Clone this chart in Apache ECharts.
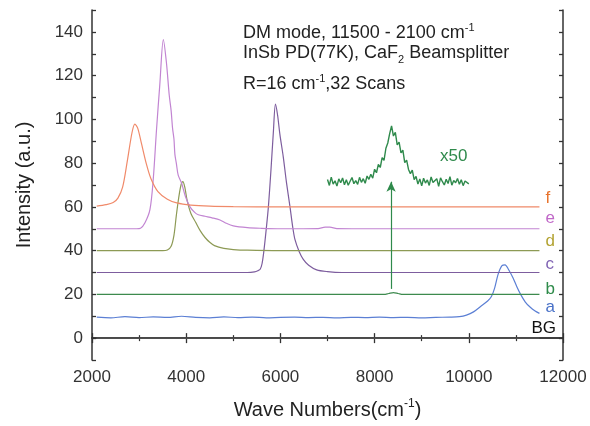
<!DOCTYPE html>
<html lang="en">
<head>
<meta charset="UTF-8">
<title>Spectra</title>
<script src="https://cdn.jsdelivr.net/npm/echarts@6/dist/echarts.min.js"></script>
<style>
    html,body{margin:0;height:100%;background:#fff;}
    #main{width:590px;height:426px;}
</style>
</head>
<body>
<div id="main"></div>
<script>
// wave numbers (cm-1) and intensities for each trace
var bgX = [2100, 11500];
var bgY = [0, 0];

var aX = [2100,2400,2700,3000,3300,3600,3900,4200,4500,4800,5100,5400,5700,6000,6300,6600,6900,7200,7500,7800,8100,8400,8700,9000,9300,9600,9800,9950,10100,10250,10400,10480,10550,10620,10700,10770,10840,10940,11020,11100,11200,11300,11400,11500];
var aY = [9.6,9.3,9.8,9.4,9.7,9.5,10.0,9.5,9.3,9.7,9.4,9.6,9.3,9.5,9.6,9.4,9.5,9.3,9.5,9.4,9.6,9.4,9.5,9.3,9.5,9.6,9.8,10.5,12,14.5,17,19,23,29,33,33.5,31.5,27.5,23.5,20,16.5,14.2,12.5,11.3];

var bX = [2100, 8200, 8300, 8400, 8500, 8600, 11500];
var bY = [20, 20, 20.4, 20.8, 20.4, 20, 20];

var cX = [2100,5300,5450,5520,5570,5610,5650,5700,5745,5800,5850,5895,5940,5990,6060,6130,6204,6260,6310,6400,6486,6600,6770,7000,7300,11500];
var cY = [30,30,30.3,30.8,31.5,34,40,50,60,77,94,107,102,93,83,71,60,51,45,39.5,36,33.3,31.2,30.4,30,30];

var dX = [2100,3500,3600,3680,3740,3790,3840,3890,3930,3970,4020,4100,4200,4300,4400,4500,4600,4800,5000,5300,6000,11500];
var dY = [40,40,40.3,42,47,56,64,70,71.5,69,63,57,53,49,46,43.8,42.3,41,40.5,40.2,40,40];

var eX = [2100,2950,3030,3125,3230,3300,3370,3440,3515,3580,3640,3680,3710,3740,3760,3790,3830,3900,3980,4080,4180,4257,4400,4550,4718,4850,5000,5300,5600,6000,6800,6950,7050,7200,8000,11500];
var eY = [50,50,50.2,52.7,58.7,72.5,95.4,116,136.5,126,111,104,96,91,84,80,74.5,71,65,60,57.5,56.4,55.7,55,54,52.5,51.3,50.5,50.2,50,50.1,50.7,50.7,50.1,50,50];

var fX = [2100,2300,2450,2550,2650,2750,2850,2910,2970,3050,3150,3250,3400,3600,3800,4100,4500,5000,6000,8000,10000,11500];
var fY = [60.3,61,62,64,69,81,94,97.8,96,89,80,73,67,63.5,61.8,60.8,60.3,60.1,60,60,60,60];

// x50 magnified inset of trace b, 40 cm-1 steps from 7000
var insetStart = 7000, insetStep = 40;
var insetY = [72.5,69.8,73.6,70.4,71.9,69.5,72.8,71.0,73.2,70.1,72.4,69.9,71.7,73.4,70.6,72.0,70.3,73.5,71.2,72.9,70.8,74.1,72.6,
    74.9,73.1,77.2,75.6,79.4,78.0,82.5,81.3,86.8,89.2,93.5,97.0,
    92.4,94.1,88.3,89.6,84.7,85.9,80.2,81.4,77.1,75.2,76.8,72.5,73.9,
    70.4,72.8,69.6,73.1,70.9,72.3,69.8,73.7,71.1,70.2,72.9,69.4,73.3,71.5,70.0,72.6,70.7,73.8,69.9,72.1,71.0,73.0,70.3,72.4,69.7,71.8,72.7,70.5];

var arrowX = 8350;
var arrowY = [22.5, 71.5];

var xTicks = [2000, 12000, 2000];   // min, max, step
var yTicks = [-10, 150, 10];

var FONT = '"Liberation Sans", Arial, sans-serif';

function pairs(xs, ys) {
    var out = [];
    for (var i = 0; i < xs.length; i++) out.push([xs[i], ys[i]]);
    return out;
}

var insetData = [];
for (var i = 0; i < insetY.length; i++) {
    insetData.push([insetStart + i * insetStep, insetY[i]]);
}

function trace(name, xs, ys, color, labelColor, off) {
    return {
        name: name,
        type: 'line',
        data: pairs(xs, ys),
        showSymbol: false,
        smooth: 0.3,
        lineStyle: {color: color, width: 1.2},
        endLabel: {
            show: true,
            formatter: name,
            color: labelColor,
            fontSize: 17,
            fontFamily: FONT,
            distance: 0,
            offset: off
        }
    };
}

var myChart = echarts.init(document.getElementById('main'));

var axisLine = {show: true, lineStyle: {color: '#333', width: 1.5}};
var tick = {show: true, inside: true, length: 5, lineStyle: {color: '#333', width: 1.3}};
var minor = {show: true, splitNumber: 2, length: 3, lineStyle: {color: '#333', width: 1.2}};
var supRich = {
    sup: {fontSize: 11, fontFamily: FONT, color: '#222', padding: [0, 0, 11, 0]},
    sub: {fontSize: 11, fontFamily: FONT, color: '#222', padding: [12, 0, 0, 0]}
};

var series = [
    trace('BG', bgX, bgY, '#555555', '#111111', [-8, -10]),
    trace('a', aX, aY, '#5b7fd4', '#4a72c8', [6, -6]),
    trace('b', bX, bY, '#3d8a4e', '#2e8b4a', [6, -5]),
    trace('c', cX, cY, '#7d5d9e', '#8064b4', [6, -8]),
    trace('d', dX, dY, '#8d9a55', '#b3a333', [6, -9]),
    trace('e', eX, eY, '#c285d2', '#c068c8', [6, -10]),
    trace('f', fX, fY, '#f08a6a', '#e8742e', [6, -9]),
    {
        name: 'x50',
        type: 'line',
        data: insetData,
        showSymbol: false,
        lineStyle: {color: '#2f8a4c', width: 1.4}
    }
];
series[2].markLine = {
    silent: true,
    symbol: ['none', 'arrow'],
    symbolSize: [7, 10],
    label: {show: false},
    lineStyle: {color: '#2f8a4c', type: 'solid', width: 1.2},
    data: [[{coord: [arrowX, arrowY[0]]}, {coord: [arrowX, arrowY[1]]}]]
};

var option = {
    animation: false,
    backgroundColor: '#fff',
    grid: {left: 92, right: 27, top: 10, bottom: 66},
    title: [
        {text: 'DM mode, 11500 - 2100 cm{sup|-1}', left: 243, top: 22, padding: 0,
            textStyle: {fontSize: 18, fontWeight: 'normal', color: '#222', fontFamily: FONT, rich: supRich}},
        {text: 'InSb PD(77K), CaF{sub|2} Beamsplitter', left: 243, top: 42, padding: 0,
            textStyle: {fontSize: 18, fontWeight: 'normal', color: '#222', fontFamily: FONT, rich: supRich}},
        {text: 'R=16 cm{sup|-1},32 Scans', left: 243, top: 73, padding: 0,
            textStyle: {fontSize: 18, fontWeight: 'normal', color: '#222', fontFamily: FONT, rich: supRich}},
        {text: 'x50', left: 440, top: 148, padding: 0,
            textStyle: {fontSize: 17, fontWeight: 'normal', color: '#2f8a4c', fontFamily: FONT}}
    ],
    xAxis: [{
        type: 'value',
        min: xTicks[0], max: xTicks[1], interval: xTicks[2],
        name: 'Wave Numbers(cm{sup|-1})',
        nameLocation: 'middle',
        nameGap: 38,
        nameTextStyle: {fontSize: 20, color: '#222', fontFamily: FONT,
            rich: {sup: {fontSize: 12, fontFamily: FONT, color: '#222', padding: [0, 0, 12, 0]}}},
        axisLine: axisLine,
        axisTick: tick,
        minorTick: minor,
        splitLine: {show: false},
        axisLabel: {
            fontSize: 17, color: '#333', fontFamily: FONT, margin: 9,
            formatter: function (v) { return String(v); }
        }
    }, {
        type: 'value',
        position: 'top',
        min: xTicks[0], max: xTicks[1], interval: xTicks[2],
        axisLine: axisLine,
        axisTick: tick,
        minorTick: minor,
        splitLine: {show: false},
        axisLabel: {show: false}
    }],
    yAxis: [{
        type: 'value',
        min: yTicks[0], max: yTicks[1], interval: yTicks[2],
        name: 'Intensity (a.u.)',
        nameLocation: 'middle',
        nameGap: 58,
        nameTextStyle: {fontSize: 20, color: '#222', fontFamily: FONT},
        axisLine: axisLine,
        axisTick: {show: true, inside: true, length: 4, lineStyle: {color: '#333', width: 1.3}},
        splitLine: {show: false},
        axisLabel: {
            fontSize: 17, color: '#333', fontFamily: FONT, margin: 9,
            formatter: function (v) {
                return (v >= 0 && v <= 140 && v % 20 === 0) ? String(v) : '';
            }
        }
    }, {
        type: 'value',
        position: 'right',
        min: yTicks[0], max: yTicks[1], interval: yTicks[2],
        axisLine: axisLine,
        axisTick: {show: true, inside: true, length: 4, lineStyle: {color: '#333', width: 1.3}},
        splitLine: {show: false},
        axisLabel: {show: false}
    }],
    series: series
};

myChart.setOption(option);
</script>
</body>
</html>
